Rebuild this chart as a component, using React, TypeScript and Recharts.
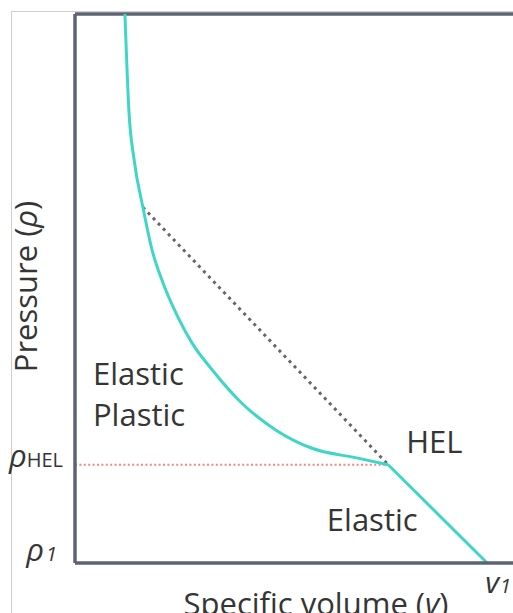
import { ComposedChart, Line, XAxis, YAxis, ReferenceLine, ReferenceDot, Label } from "recharts";

// plastic branch of the Hugoniot (specific volume, pressure)
const plasticV = [11.4, 12.3, 13.5, 15.5, 17.6, 20.1, 23.5, 26.7, 31.3, 38.1, 45.9, 54.1, 64.6, 71.5];
const plasticP = [100, 82.5, 73.4, 64.8, 57.0, 51.0, 44.8, 40.1, 35.2, 29.1, 24.2, 20.9, 19.1, 17.9];

// elastic branch, from HEL down to the initial state
const elasticV = [71.5, 94.1];
const elasticP = [17.9, 0];

// dotted chord from HEL up to the plastic curve
const chordV = [15.5, 71.5];
const chordP = [64.8, 17.9];

const pHEL = 17.9;
const p1 = 0;
const v1 = 94.1;

const zip = (vs: number[], ps: number[]) => vs.map((v, i) => ({ v, p: ps[i] }));
const plasticData = zip(plasticV, plasticP);
const elasticData = zip(elasticV, elasticP);
const chordData = zip(chordV, chordP);

const FONT = "'Open Sans', sans-serif";
const INK = "#353535";
const AXIS = "#5d6371";
const CYAN = "#3fd6c6";

const PTick = (props: any) => {
  const { x, y, payload } = props;
  if (payload.value === pHEL) {
    return (
      <text x={x - 12} y={y + 2} textAnchor="end" fontFamily={FONT} fill={INK}>
        <tspan fontSize={31} fontStyle="italic">ρ</tspan>
        <tspan fontSize={20}>HEL</tspan>
      </text>
    );
  }
  return (
    <text x={x - 18} y={y - 2} textAnchor="end" fontFamily={FONT} fill={INK}>
      <tspan fontSize={31} fontStyle="italic">ρ</tspan>
      <tspan fontSize={20} fontStyle="italic" dx={2}>1</tspan>
    </text>
  );
};

const VTick = (props: any) => {
  const { x, y } = props;
  return (
    <text x={x - 2} y={y + 30} textAnchor="start" fontFamily={FONT} fill={INK}>
      <tspan fontSize={30} fontStyle="italic">v</tspan>
      <tspan fontSize={20} fontStyle="italic" dx={1}>1</tspan>
    </text>
  );
};

const note = (lines: string[]) => (props: any) => {
  const { viewBox } = props;
  return (
    <text x={viewBox.x} y={viewBox.y} fontFamily={FONT} fontSize={31} fill={INK}>
      {lines.map((l, i) => (
        <tspan key={l} x={viewBox.x} dy={i === 0 ? 0 : 41}>
          {l}
        </tspan>
      ))}
    </text>
  );
};

export default function App() {
  return (
    <div style={{ position: "absolute", left: 0, top: 0, width: 513, height: 613, overflow: "hidden", background: "#fff" }}>
      <div
        style={{
          position: "absolute",
          left: 11,
          top: 11,
          right: 0,
          bottom: 0,
          borderLeft: "1px solid #cfcfcf",
          borderTop: "1px solid #cfcfcf",
        }}
      />
      <div style={{ position: "absolute", left: 0, top: 0 }}>
        <ComposedChart width={513} height={613} margin={{ top: 14, right: 0, bottom: 0, left: 15 }}>
          <XAxis
            type="number"
            dataKey="v"
            domain={[0, 100]}
            ticks={[v1]}
            height={50}
            tickSize={0}
            tickMargin={0}
            tickLine={false}
            tick={<VTick />}
            axisLine={{ stroke: AXIS, strokeWidth: 3.5 }}
          >
            <Label
              content={(p: any) => (
                <text
                  x={p.viewBox.x + p.viewBox.width / 2 + 22}
                  y={p.viewBox.y + 52}
                  textAnchor="middle"
                  fontFamily={FONT}
                  fontSize={31}
                  fill={INK}
                >
                  Specific volume (<tspan fontStyle="italic">v</tspan>)
                </text>
              )}
            />
          </XAxis>
          <YAxis
            type="number"
            dataKey="p"
            domain={[0, 100]}
            ticks={[p1, pHEL]}
            width={60}
            tickSize={0}
            tickMargin={0}
            tickLine={false}
            tick={<PTick />}
            axisLine={{ stroke: AXIS, strokeWidth: 3.5 }}
          >
            <Label
              content={(p: any) => {
                const cx = 37;
                const cy = p.viewBox.y + p.viewBox.height / 2 - 2;
                return (
                  <text
                    x={cx}
                    y={cy}
                    transform={`rotate(-90 ${cx} ${cy})`}
                    textAnchor="middle"
                    fontFamily={FONT}
                    fontSize={31}
                    fill={INK}
                  >
                    Pressure (<tspan fontStyle="italic">ρ</tspan>)
                  </text>
                );
              }}
            />
          </YAxis>
          <ReferenceLine y={100} stroke={AXIS} strokeWidth={3.5} />
          <ReferenceLine
            segment={[
              { x: 0, y: pHEL },
              { x: elasticV[0], y: pHEL },
            ]}
            stroke="#f08686"
            strokeWidth={2}
            strokeDasharray="2 2.4"
          />
          <Line
            data={chordData}
            dataKey="p"
            type="linear"
            stroke="#666"
            strokeWidth={3}
            strokeDasharray="3 4.3"
            dot={false}
            activeDot={false}
            isAnimationActive={false}
          />
          <Line
            data={plasticData}
            dataKey="p"
            type="monotone"
            stroke={CYAN}
            strokeWidth={3}
            dot={false}
            activeDot={false}
            isAnimationActive={false}
          />
          <Line
            data={elasticData}
            dataKey="p"
            type="linear"
            stroke={CYAN}
            strokeWidth={3}
            dot={false}
            activeDot={false}
            isAnimationActive={false}
          />
          <ReferenceDot x={4.1} y={32.4} r={0} stroke="none" fill="none" label={note(["Elastic", "Plastic"])} />
          <ReferenceDot x={75.6} y={20.0} r={0} stroke="none" fill="none" label={note(["HEL"])} />
          <ReferenceDot x={57.5} y={5.8} r={0} stroke="none" fill="none" label={note(["Elastic"])} />
        </ComposedChart>
      </div>
    </div>
  );
}
